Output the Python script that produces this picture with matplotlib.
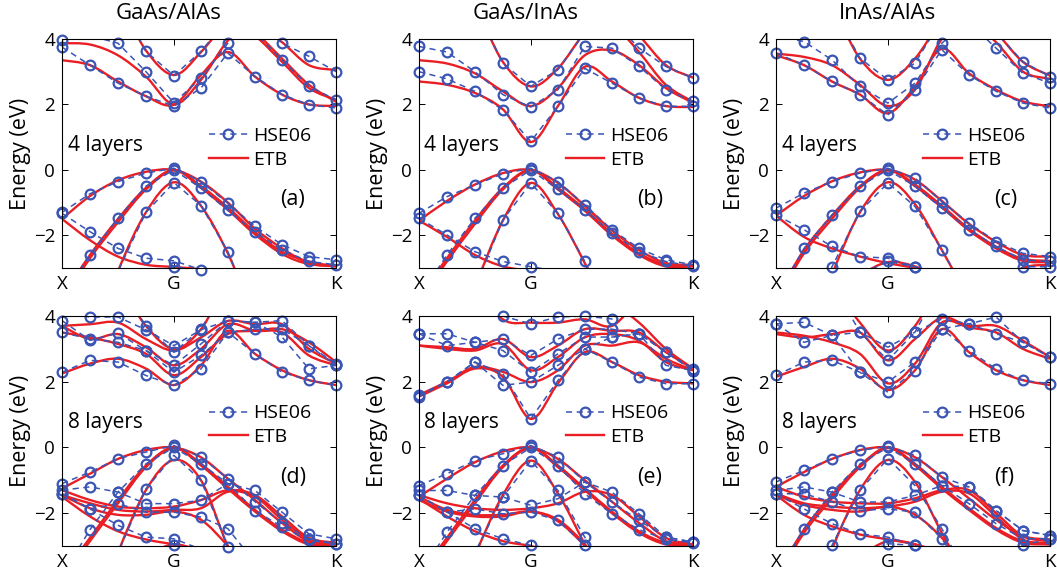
import numpy as np
import matplotlib
matplotlib.use("Agg")
import matplotlib.pyplot as plt
from matplotlib.path import Path
from matplotlib.patches import PathPatch
from matplotlib.lines import Line2D

plt.rcParams['font.family'] = ['Open Sans', 'DejaVu Sans']

# k-path positions: X -> G -> K
kx = [0, 1, 2, 3, 4, 4.97, 5.93, 6.9, 7.87, 8.83, 9.8]
k_ticks = [0, 4, 9.8]
k_labels = ["X", "G", "K"]

titles = ["GaAs/AlAs", "GaAs/InAs", "InAs/AlAs"]
layers = ["4 layers", "8 layers"]
letters = ["(a)", "(b)", "(c)", "(d)", "(e)", "(f)"]

# ---- (a) GaAs/AlAs, 4 layers
a_hse = [
    [-1.3, -0.73, -0.36, -0.1, 0.05, -0.36, -1.02, -1.73, -2.29, -2.65, -2.75],
    [-3.9, -2.6, -1.48, -0.5, 0.0, -0.56, -1.24, -1.9, -2.45, -2.8, -2.9],
    [-8, -5.5, -3.1, -1.3, -0.39, -1.09, -2.5, -4.5, -6, -7, -8],
    [-1.33, -1.89, -2.4, -2.7, -2.78, -3.05, -3.3, -3.6, -3.8, -3.9, -4.0],
    [-4.5, -4.0, -3.6, -3.2, -2.96, -3.1, -3.5, -3.8, -4.0, -4.0, -4.0],
    [3.75, 3.2, 2.65, 2.25, 1.95, 2.5, 3.57, 2.85, 2.3, 1.99, 1.89],
    [3.98, 4.1, 3.87, 3.0, 2.05, 2.8, 3.87, 4.6, 5.0, 5.2, 5.4],
    [7, 6, 5.2, 3.62, 2.88, 3.62, 4.6, 5.5, 6, 6.5, 7],
    [7, 6.5, 6, 5.5, 5.2, 5, 4.6, 4.2, 3.36, 2.55, 2.14],
    [7, 6.5, 6, 5.8, 5.6, 5.4, 5.0, 4.6, 3.87, 3.47, 3.0],
]
a_etb = [
    [-1.5, -0.8, -0.32, -0.06, 0.0, -0.36, -1.0, -1.8, -2.4, -2.85, -2.95],
    [-3.9, -2.6, -1.5, -0.55, 0.0, -0.5, -1.15, -1.9, -2.5, -2.8, -2.95],
    [-4.0, -2.7, -1.6, -0.6, -0.02, -0.55, -1.22, -1.97, -2.57, -2.88, -2.92],
    [-8, -5.5, -3.1, -1.3, -0.38, -1.1, -2.55, -4.5, -6, -7, -8],
    [-1.5, -2.15, -2.65, -2.9, -2.97, -3.05, -3.3, -3.6, -3.8, -3.9, -4.0],
    [3.35, 3.2, 2.7, 2.25, 1.99, 2.9, 3.6, 2.85, 2.3, 2.0, 1.95],
    [3.87, 3.83, 3.5, 2.85, 2.0, 2.75, 3.95, 4.6, 5.0, 5.2, 5.4],
    [7, 6, 5.2, 3.65, 2.9, 3.6, 4.6, 5.5, 6, 6.5, 7],
    [7, 6.5, 6, 5.5, 5.2, 5, 4.6, 4.1, 3.3, 2.5, 2.14],
    [7, 6.5, 6, 5.5, 5.2, 5, 4.7, 4.2, 3.4, 2.6, 2.08],
    [7, 6.5, 6, 5.8, 5.6, 5.4, 5.0, 4.5, 3.9, 3.2, 3.05],
]

# ---- (b) GaAs/InAs, 4 layers
b_hse = [
    [-1.33, -0.82, -0.46, -0.12, 0.05, -0.36, -1.07, -1.83, -2.4, -2.75, -2.9],
    [-3.9, -2.6, -1.48, -0.56, 0.0, -0.6, -1.22, -1.94, -2.5, -2.8, -2.95],
    [-8, -6, -3.6, -1.53, -0.4, -1.33, -2.8, -4.5, -6, -7, -8],
    [-1.48, -1.99, -2.5, -2.8, -2.96, -3.1, -3.4, -3.7, -3.9, -4, -4],
    [3.0, 2.78, 2.4, 1.83, 0.87, 1.94, 3.1, 2.65, 2.19, 1.94, 1.94],
    [3.77, 3.6, 3.0, 2.3, 1.92, 2.45, 3.77, 3.72, 3.16, 2.45, 2.09],
    [7, 6, 5, 3.26, 2.55, 3.06, 4.2, 5, 5.5, 6, 6.5],
    [7, 6.5, 6, 5.8, 5.6, 5.2, 5.0, 4.6, 3.72, 3.16, 2.8],
]
b_etb = [
    [-1.55, -0.95, -0.45, -0.1, 0.0, -0.4, -1.1, -1.85, -2.45, -2.85, -2.9],
    [-3.9, -2.7, -1.55, -0.55, 0.0, -0.55, -1.2, -1.95, -2.55, -2.9, -2.92],
    [-4.0, -2.8, -1.65, -0.6, -0.02, -0.6, -1.25, -2.0, -2.6, -2.95, -2.95],
    [-8, -6, -3.6, -1.55, -0.4, -1.35, -2.85, -4.5, -6, -7, -8],
    [-1.55, -2.05, -2.6, -2.95, -3.1, -3.3, -3.5, -3.7, -3.9, -4, -4],
    [2.7, 2.6, 2.35, 1.85, 0.85, 1.95, 3.15, 2.7, 2.2, 1.95, 1.92],
    [3.35, 3.25, 2.95, 2.4, 1.95, 2.5, 3.5, 3.65, 3.2, 2.5, 2.05],
    [7, 6, 5, 3.3, 2.55, 3.1, 4.2, 5, 5.5, 6, 6.5],
    [7, 6.5, 6, 5.8, 5.6, 5.2, 5.0, 4.8, 4.1, 3.2, 2.82],
    [7, 6.5, 6, 5.8, 5.6, 5.2, 5.0, 4.5, 3.6, 2.6, 2.08],
]

# ---- (c) InAs/AlAs, 4 layers
c_hse = [
    [-1.17, -0.71, -0.36, -0.1, 0.05, -0.25, -0.97, -1.63, -2.19, -2.55, -2.65],
    [-3.9, -2.4, -1.38, -0.5, 0.0, -0.5, -1.17, -1.83, -2.34, -2.75, -2.8],
    [-8, -5.5, -2.96, -1.27, -0.4, -1.12, -2.45, -3.9, -5, -6, -7],
    [-1.38, -1.83, -2.34, -2.65, -2.7, -2.96, -3.3, -3.6, -3.8, -4, -4],
    [-4.5, -4, -3.6, -3.2, -2.8, -2.96, -3.3, -3.6, -3.6, -2.96, -2.96],
    [3.57, 3.2, 2.7, 2.3, 1.68, 2.45, 3.67, 2.9, 2.4, 2.04, 1.89],
    [4.1, 3.92, 3.36, 2.55, 2.04, 2.65, 3.87, 4.6, 5, 5.4, 5.8],
    [7, 6, 5, 3.41, 2.75, 3.26, 4.6, 5.5, 6, 6.5, 7],
    [7, 6.5, 6, 5.8, 5.6, 5.2, 5, 4.5, 3.72, 2.95, 2.65],
    [7, 6.5, 6, 5.8, 5.6, 5.2, 5, 4.8, 4.2, 3.3, 2.85],
]
c_etb = [
    [-1.4, -0.8, -0.35, -0.08, 0.0, -0.3, -0.95, -1.65, -2.2, -2.6, -2.65],
    [-3.9, -2.45, -1.4, -0.5, 0.0, -0.45, -1.1, -1.8, -2.35, -2.72, -2.78],
    [-4.0, -2.55, -1.5, -0.55, -0.02, -0.5, -1.15, -1.85, -2.4, -2.78, -2.82],
    [-8, -5.5, -3.2, -1.3, -0.38, -1.05, -2.45, -3.9, -5, -6, -7],
    [-1.4, -2.05, -2.4, -2.65, -2.85, -3.0, -3.2, -3.5, -3.7, -3.9, -4],
    [-4.5, -4, -3.6, -3.2, -2.82, -2.95, -3.3, -3.6, -3.6, -3.0, -2.9],
    [3.5, 3.2, 2.7, 2.3, 1.73, 2.55, 3.7, 2.95, 2.45, 2.09, 1.94],
    [3.55, 3.45, 3.2, 2.6, 1.95, 2.45, 4.0, 4.6, 5, 5.4, 5.8],
    [7, 6, 5, 3.4, 2.75, 3.4, 4.6, 5.5, 6, 6.5, 7],
    [7, 6.5, 6, 5.8, 5.6, 5.2, 5, 4.6, 3.9, 3.0, 2.78],
    [7, 6.5, 6, 5.8, 5.6, 5.2, 5, 4.9, 4.2, 3.3, 2.88],
]

# ---- (d) GaAs/AlAs, 8 layers
d_hse = [
    [-1.1, -0.75, -0.34, -0.14, 0.06, -0.29, -0.95, -1.65, -2.3, -2.78, -2.93],
    [-3.9, -2.5, -1.36, -0.5, 0.0, -0.5, -1.1, -1.92, -2.42, -2.83, -2.93],
    [-8, -5.5, -3.2, -1.26, -0.24, -1.0, -3.03, -4.5, -6, -7, -8],
    [-1.41, -1.87, -2.37, -2.73, -2.78, -3.1, -3.4, -3.7, -3.9, -4, -4],
    [-1.3, -1.2, -1.36, -1.71, -1.71, -1.61, -1.1, -1.31, -1.97, -2.63, -2.78],
    [-1.41, -1.87, -1.71, -1.97, -1.97, -2.12, -2.47, -3.5, -4, -4, -4],
    [-4.5, -4.2, -3.8, -3.3, -2.98, -3.3, -3.7, -4, -4, -4, -4],
    [2.29, 2.65, 2.6, 2.19, 1.89, 2.39, 3.51, 2.85, 2.29, 2.04, 1.89],
    [3.86, 3.26, 3.48, 2.95, 2.5, 3.15, 3.86, 3.81, 3.36, 2.39, 2.5],
    [4.1, 3.97, 3.97, 3.58, 3.1, 3.58, 3.86, 3.81, 3.86, 3.1, 2.5],
    [7, 6, 5, 3.7, 2.9, 3.6, 5, 5.5, 6, 6.5, 7],
    [3.5, 3.3, 3.2, 2.95, 2.29, 2.8, 3.5, 3.6, 3.6, 3.1, 2.55],
]
d_etb = [
    [-1.25, -0.8, -0.35, -0.08, 0.0, -0.3, -0.95, -1.6, -2.3, -2.85, -2.9],
    [-3.9, -2.75, -1.6, -0.55, 0.0, -0.5, -1.2, -1.9, -2.5, -2.9, -2.95],
    [-4.0, -2.85, -1.7, -0.6, -0.02, -0.55, -1.25, -1.95, -2.55, -2.95, -2.97],
    [-8, -5.5, -3.2, -1.3, -0.38, -1.0, -3.0, -4.5, -6, -7, -8],
    [-1.5, -2.1, -2.55, -2.8, -2.95, -3.1, -3.3, -3.6, -3.8, -4, -4],
    [-1.45, -1.7, -1.9, -1.95, -1.9, -1.85, -1.35, -1.5, -2.2, -2.8, -2.95],
    [-1.3, -1.6, -1.8, -1.85, -1.8, -1.6, -1.3, -1.45, -2.1, -2.75, -2.9],
    [-1.45, -1.85, -2.05, -2.05, -1.95, -2.2, -3.0, -4, -5, -6, -7],
    [-4.5, -4.2, -3.8, -3.3, -2.95, -3.2, -3.6, -4, -4, -4, -4],
    [2.25, 2.55, 2.7, 2.4, 1.9, 2.5, 3.55, 2.85, 2.35, 2.05, 1.9],
    [3.7, 3.3, 3.45, 3.05, 2.5, 3.0, 3.75, 3.55, 3.5, 2.8, 2.5],
    [3.7, 3.75, 3.8, 3.3, 2.95, 3.35, 3.85, 3.75, 3.75, 3.0, 2.55],
    [7, 6, 5, 3.7, 3.0, 3.6, 5, 5.5, 6, 6.5, 7],
    [3.5, 3.35, 3.15, 2.85, 2.2, 2.75, 3.45, 3.55, 3.6, 3.2, 2.6],
]

# ---- (e) GaAs/InAs, 8 layers
e_hse = [
    [-1.16, -0.8, -0.4, -0.19, 0.06, -0.29, -1.05, -1.66, -2.22, -2.73, -2.88],
    [-3.9, -2.58, -1.46, -0.55, 0.0, -0.55, -1.41, -2.02, -2.5, -2.8, -2.9],
    [-8, -5.5, -3.2, -1.51, -0.4, -1.31, -2.73, -4.5, -6, -7, -8],
    [-1.46, -1.97, -2.47, -2.78, -2.98, -3.1, -3.4, -3.7, -3.9, -4, -4],
    [-1.31, -1.31, -1.46, -1.51, -1.76, -1.56, -1.05, -1.36, -2.02, -2.73, -2.88],
    [-1.46, -1.97, -1.87, -2.02, -1.97, -2.22, -2.98, -4, -5, -6, -7],
    [1.55, 1.99, 2.6, 2.24, 0.87, 2.04, 3.0, 2.6, 2.14, 1.94, 1.94],
    [1.6, 2.0, 2.6, 1.89, 1.99, 2.5, 3.0, 3.36, 3.46, 2.5, 2.34],
    [3.46, 3.1, 3.2, 2.95, 2.29, 2.85, 3.36, 3.36, 3.46, 2.9, 2.34],
    [3.46, 3.46, 3.2, 3.3, 2.8, 3.3, 3.6, 3.6, 3.46, 2.9, 2.4],
    [7, 6, 5, 4.0, 3.76, 3.97, 4.0, 3.91, 4.5, 5, 5.5],
]
e_etb = [
    [-1.5, -0.95, -0.45, -0.12, 0.0, -0.35, -1.0, -1.65, -2.3, -2.85, -2.95],
    [-3.9, -2.75, -1.6, -0.55, 0.0, -0.55, -1.25, -1.95, -2.55, -2.9, -2.95],
    [-4.0, -2.85, -1.7, -0.6, -0.02, -0.6, -1.3, -2.0, -2.6, -2.95, -2.97],
    [-8, -5.5, -3.3, -1.45, -0.4, -1.4, -2.95, -4.5, -6, -7, -8],
    [-1.55, -2.1, -2.55, -2.85, -3.0, -3.2, -3.4, -3.7, -3.9, -4, -4],
    [-1.45, -1.7, -1.85, -1.9, -1.85, -1.7, -1.35, -1.45, -2.1, -2.75, -2.95],
    [-1.5, -1.9, -2.05, -2.05, -1.95, -2.2, -2.95, -4, -5, -6, -7],
    [-1.6, -1.95, -2.1, -2.1, -1.95, -2.25, -3.0, -4, -5, -6, -7],
    [1.55, 1.95, 2.4, 2.15, 0.87, 1.95, 2.9, 2.6, 2.2, 2.0, 1.95],
    [1.6, 2.0, 2.45, 2.3, 1.99, 2.35, 3.1, 3.1, 3.2, 2.7, 2.35],
    [3.1, 3.0, 2.95, 3.15, 2.35, 2.75, 3.35, 3.45, 3.25, 2.6, 2.35],
    [3.1, 3.05, 3.0, 3.3, 2.75, 3.1, 3.6, 3.55, 3.5, 2.9, 2.4],
    [7, 6, 5, 3.9, 3.8, 3.8, 3.9, 3.7, 4.5, 5, 5.5],
    [7, 6.5, 6, 5.5, 5.2, 5, 4.8, 4.4, 3.8, 3.0, 2.4],
]

# ---- (f) InAs/AlAs, 8 layers
f_hse = [
    [-1.05, -0.7, -0.34, -0.09, 0.03, -0.24, -0.9, -1.2, -1.92, -2.53, -2.68],
    [-3.9, -2.47, -1.36, -0.5, 0.0, -0.5, -1.16, -1.71, -2.32, -2.78, -2.78],
    [-8, -5.5, -2.98, -1.31, -0.34, -1.16, -2.47, -4, -5, -6, -7],
    [-1.41, -1.87, -2.32, -2.63, -2.73, -2.98, -3.3, -3.6, -3.8, -4, -4],
    [-1.31, -1.2, -1.36, -1.66, -1.66, -1.46, -1.16, -1.2, -1.92, -2.53, -2.68],
    [-1.41, -1.41, -1.66, -1.92, -1.87, -1.97, -2.78, -4, -5, -6, -7],
    [-4.5, -4.2, -3.8, -3.3, -2.93, -2.98, -3.3, -3.7, -3.7, -2.98, -2.78],
    [2.19, 2.6, 2.65, 2.29, 1.68, 2.34, 3.61, 2.95, 2.39, 2.04, 1.94],
    [3.76, 3.2, 3.41, 3.51, 2.65, 3.51, 3.91, 3.76, 3.46, 3.2, 2.75],
    [3.76, 3.81, 3.41, 2.29, 1.99, 2.6, 3.61, 3.76, 3.97, 3.2, 2.75],
    [7, 6, 5, 3.51, 3.05, 3.51, 5, 5.5, 6, 6.5, 7],
]
f_etb = [
    [-1.2, -0.75, -0.35, -0.08, 0.0, -0.3, -0.9, -1.55, -2.2, -2.7, -2.8],
    [-3.9, -2.5, -1.45, -0.55, 0.0, -0.5, -1.2, -1.85, -2.45, -2.85, -2.9],
    [-4.0, -2.6, -1.55, -0.6, -0.02, -0.55, -1.25, -1.9, -2.5, -2.9, -2.95],
    [-8, -5.5, -3.1, -1.3, -0.38, -1.05, -2.6, -4, -5, -6, -7],
    [-1.45, -2.05, -2.4, -2.65, -2.8, -2.95, -3.2, -3.5, -3.8, -4, -4],
    [-1.2, -1.5, -1.65, -1.7, -1.7, -1.55, -1.3, -1.3, -2.0, -2.7, -2.85],
    [-1.4, -1.7, -1.8, -1.85, -1.8, -1.65, -1.35, -1.4, -2.1, -2.8, -2.95],
    [-1.45, -1.75, -1.9, -1.95, -1.8, -2.05, -2.75, -3.8, -5, -6, -7],
    [-4.5, -4.2, -3.8, -3.3, -2.85, -2.95, -3.3, -3.6, -3.6, -3.0, -2.9],
    [2.15, 2.45, 2.7, 2.4, 1.75, 2.35, 3.6, 2.9, 2.35, 2.05, 1.9],
    [3.5, 3.4, 3.2, 2.85, 1.95, 2.55, 3.8, 3.65, 3.5, 3.0, 2.7],
    [3.45, 3.35, 3.45, 3.5, 2.65, 3.3, 3.95, 3.7, 3.7, 3.25, 2.75],
    [7, 6, 5, 3.8, 2.95, 3.7, 5, 5.5, 6, 6.5, 7],
]

BLUE = "#3a55b4"
RED = "#ea1f25"


def smooth_curve(ax, x, y, **kw):
    # draw a smooth line through the points (Catmull-Rom as cubic Bezier)
    pts = np.column_stack([x, y]).astype(float)
    n = len(pts)
    verts = [pts[0]]
    codes = [Path.MOVETO]
    for i in range(n - 1):
        p0 = pts[max(i - 1, 0)]
        p1 = pts[i]
        p2 = pts[i + 1]
        p3 = pts[min(i + 2, n - 1)]
        verts += [p1 + (p2 - p0) / 6, p2 - (p3 - p1) / 6, p2]
        codes += [Path.CURVE4] * 3
    ax.add_patch(PathPatch(Path(verts, codes), fill=False, **kw))


def draw_panel(ax, hse, etb, letter, layer_text):
    x = np.array(kx)
    for band in hse:
        y = np.array(band, dtype=float)
        ax.plot(x, y, ls=(0, (4, 3)), color=BLUE, lw=1.1)
        ym = np.where((y >= -3.05) & (y <= 4.05), y, np.nan)
        ax.plot(x, ym, "o", mfc="none", mec=BLUE, ms=7, mew=1.6, clip_on=False)
    for band in etb:
        smooth_curve(ax, x, band, edgecolor=RED, lw=1.7)

    ax.set_xlim(0, 9.8)
    ax.set_ylim(-3, 4)
    ax.set_xticks(k_ticks)
    ax.set_xticklabels(k_labels)
    ax.set_yticks([-2, 0, 2, 4])
    ax.set_yticklabels(["\u22122", "0", "2", "4"])
    ax.tick_params(direction="in", top=True, right=True, length=4, width=0.7,
                   labelsize=13.5, pad=5)
    for s in ax.spines.values():
        s.set_linewidth(0.8)
    ax.set_ylabel("Energy (eV)", fontsize=15.5, labelpad=2)

    ax.text(0.02, 0.535, layer_text, transform=ax.transAxes, fontsize=15,
            va="center", ha="left")
    ax.text(0.795, 0.30, letter, transform=ax.transAxes, fontsize=15.5,
            va="center", ha="left")

    h1 = Line2D([], [], ls=(0, (4, 3)), color=BLUE, lw=1.1, marker="o",
                mfc="none", mec=BLUE, ms=7, mew=1.6)
    h2 = Line2D([], [], color=RED, lw=1.7)
    ax.legend([h1, h2], ["HSE06", "ETB"], loc="center left",
              bbox_to_anchor=(0.535, 0.525), frameon=False, fontsize=14,
              handlelength=2.0, handletextpad=0.3, labelspacing=0.3,
              borderpad=0, borderaxespad=0)


fig = plt.figure(figsize=(10.57, 5.77), dpi=100)

col_left = [0.0587, 0.3964, 0.7342]
row_bottom = [0.5355, 0.0537]
row_height = [0.397, 0.3986]
width = 0.2592

panels = [[a_hse, a_etb], [b_hse, b_etb], [c_hse, c_etb],
          [d_hse, d_etb], [e_hse, e_etb], [f_hse, f_etb]]

for r in range(2):
    for c in range(3):
        i = r * 3 + c
        ax = fig.add_axes([col_left[c], row_bottom[r], width, row_height[r]])
        draw_panel(ax, panels[i][0], panels[i][1], letters[i], layers[r])

title_x = [0.159, 0.4976, 0.840]
for c in range(3):
    fig.text(title_x[c], 0.976, titles[c], ha="center", va="center", fontsize=16)

fig.savefig("out.png", dpi=100)
